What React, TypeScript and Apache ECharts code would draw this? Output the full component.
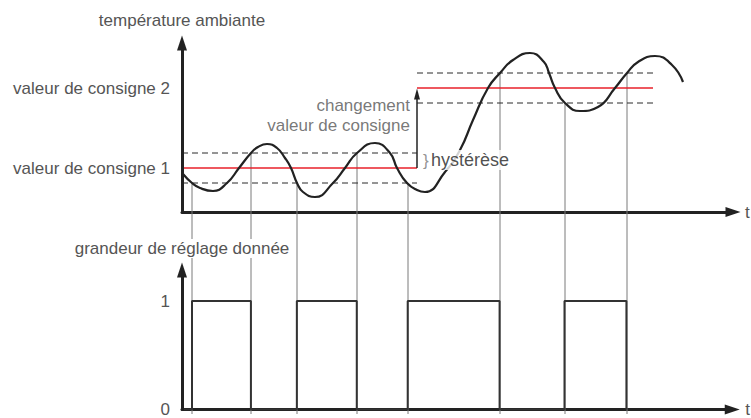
import React, { useEffect, useRef } from 'react';
import * as echarts from 'echarts';

// time axis: 0 .. 551 (arbitrary time units), temperature axis: 0 .. 169 (arbitrary units)
const curveTime = [1, 10, 18, 31, 45, 57, 69, 76, 85, 95, 103, 109, 115, 121, 133, 151, 163, 175, 193, 208, 215, 225, 235, 243, 263, 278, 291, 306, 318, 331, 348, 362, 367, 373, 383, 398, 416, 433, 445, 456, 473, 490, 501];
const curveTemp = [38, 29, 24, 21, 29, 44, 59, 65, 68, 64, 54, 44, 29, 20, 15, 29, 44, 59, 69, 59, 44, 29, 22, 20, 40, 62, 92, 124, 139, 152, 159, 150, 139, 124, 109, 101, 105, 124, 139, 150, 156, 147, 130];
const setpoints = [44, 124];
const setpointLabels = ['valeur de consigne 1', 'valeur de consigne 2'];
const hysteresis = 15;
const setpointStart = [0, 235];
const setpointEnd = [235, 471];
const switchOn = [10, 115, 226, 383];
const switchOff = [69, 175, 318, 445];
const outputTicks = [0, 1];

const FONT = '"Liberation Sans", Arial, sans-serif';
const TXT = '#555';
const TMAX = 551;
const FS = 17;

function setpointAt(t: number) {
  return t < setpointEnd[0] ? setpoints[0] : setpoints[1];
}

export default function App() {
  const ref = useRef<HTMLDivElement>(null);
  useEffect(() => {
    const chart = echarts.init(ref.current!, undefined, { renderer: 'svg' });

    const vertical: any[] = [];
    switchOn.forEach((t) => vertical.push([[t, setpointAt(t) - hysteresis], [t, -202]]));
    switchOff.forEach((t) => vertical.push([[t, setpointAt(t) + hysteresis], [t, -202]]));

    const pulse: number[][] = [[0, 0]];
    switchOn.forEach((t, i) => {
      pulse.push([t, 0], [t, 1], [switchOff[i], 1], [switchOff[i], 0]);
    });

    const series: any[] = [];
    vertical.forEach((d) =>
      series.push({
        type: 'line', xAxisIndex: 2, yAxisIndex: 2, data: d, symbol: 'none', silent: true, z: 1,
        lineStyle: { color: '#7a7a7a', width: 1 },
      })
    );
    setpoints.forEach((s, i) => {
      [s - hysteresis, s + hysteresis].forEach((v) =>
        series.push({
          type: 'line', xAxisIndex: 0, yAxisIndex: 0, symbol: 'none', silent: true, z: 2,
          data: [[setpointStart[i], v], [setpointEnd[i], v]],
          lineStyle: { color: '#2a2a2a', width: 1, type: [6, 4] },
        })
      );
      series.push({
        type: 'line', xAxisIndex: 0, yAxisIndex: 0, symbol: 'none', silent: true, z: 3,
        data: [[setpointStart[i], s], [setpointEnd[i], s]],
        lineStyle: { color: '#e8202a', width: 1.5 },
      });
    });
    series.push({
      type: 'line', xAxisIndex: 0, yAxisIndex: 0, symbol: 'none', silent: true, z: 4,
      smooth: 0.5,
      data: curveTime.map((t, i) => [t, curveTemp[i]]),
      lineStyle: { color: '#222', width: 2.2 },
      markLine: {
        silent: true, symbol: ['none', 'triangle'], symbolSize: [6, 11],
        label: { show: false },
        lineStyle: { color: '#222', width: 1.5, type: 'solid' },
        data: [[{ coord: [setpointEnd[0], setpoints[0]] }, { coord: [setpointEnd[0], setpoints[1] - 6] }]],
      },
    });
    series.push({
      type: 'line', xAxisIndex: 1, yAxisIndex: 1, symbol: 'none', silent: true, z: 3,
      data: pulse, lineStyle: { color: '#333', width: 2 },
    });
    series.push({
      type: 'scatter', xAxisIndex: 0, yAxisIndex: 0, symbolSize: 0, silent: true, z: 10,
      data: [
        { value: [228, 97], label: { formatter: 'changement\nvaleur de consigne', align: 'right', color: TXT, fontSize: FS, lineHeight: 20 } },
        { value: [241, 52], label: { formatter: '}', align: 'left', color: '#777', fontSize: 17 } },
        { value: [249, 52], label: { formatter: 'hystérèse', align: 'left', color: '#222', fontSize: 18, backgroundColor: '#fff', padding: [1, 2, 1, 0] } },
      ],
      label: { show: true, position: [0, 0], verticalAlign: 'middle', fontFamily: FONT },
    });

    const axisLineArrow = {
      show: true, symbol: ['none', 'triangle'], symbolSize: [10, 15],
      lineStyle: { color: '#222', width: 3 },
    };
    const hiddenX = { type: 'value', min: 0, max: TMAX, axisTick: { show: false }, axisLabel: { show: false }, splitLine: { show: false } };

    chart.setOption({
      animation: false,
      backgroundColor: '#fff',
      grid: [
        { left: 182, top: 43, width: TMAX, height: 169 },
        { left: 182, top: 270, width: TMAX, height: 144 },
        { left: 182, top: 43, width: TMAX, height: 371 },
      ],
      xAxis: [
        { ...hiddenX, gridIndex: 0, axisLine: axisLineArrow, name: 't', nameLocation: 'end', nameGap: 12, nameTextStyle: { color: TXT, fontSize: FS, fontFamily: FONT } },
        { ...hiddenX, gridIndex: 1, axisLine: axisLineArrow, name: 't', nameLocation: 'end', nameGap: 13, nameTextStyle: { color: TXT, fontSize: FS, fontFamily: FONT } },
        { ...hiddenX, gridIndex: 2, show: false },
      ],
      yAxis: [
        {
          type: 'value', gridIndex: 0, min: 0, max: 169, z: 5,
          axisLine: axisLineArrow, axisTick: { show: false }, splitLine: { show: false },
          axisLabel: {
            customValues: setpoints, margin: 12, color: TXT, fontSize: FS, fontFamily: FONT,
            formatter: (v: number) => setpointLabels[setpoints.indexOf(v)] ?? '',
          },
          name: 'température ambiante', nameLocation: 'end', nameGap: 14,
          nameTextStyle: { color: TXT, fontSize: FS, fontFamily: FONT },
        },
        {
          type: 'value', gridIndex: 1, min: 0, max: 144 / 112, z: 5,
          axisLine: axisLineArrow, axisTick: { show: false }, splitLine: { show: false },
          axisLabel: {
            customValues: outputTicks, margin: 12, color: TXT, fontSize: FS, fontFamily: FONT,
            formatter: (v: number) => (outputTicks.includes(v) ? String(v) : ''),
          },
          name: 'grandeur de réglage donnée', nameLocation: 'end', nameGap: 12,
          nameTextStyle: { color: TXT, fontSize: FS, fontFamily: FONT, backgroundColor: '#fff', padding: [1, 2] },
        },
        { type: 'value', gridIndex: 2, min: -202, max: 169, show: false, splitLine: { show: false } },
      ],
      series,
    });
    return () => chart.dispose();
  }, []);
  return <div ref={ref} style={{ position: 'fixed', left: 0, top: 0, width: 751, height: 418 }} />;
}
